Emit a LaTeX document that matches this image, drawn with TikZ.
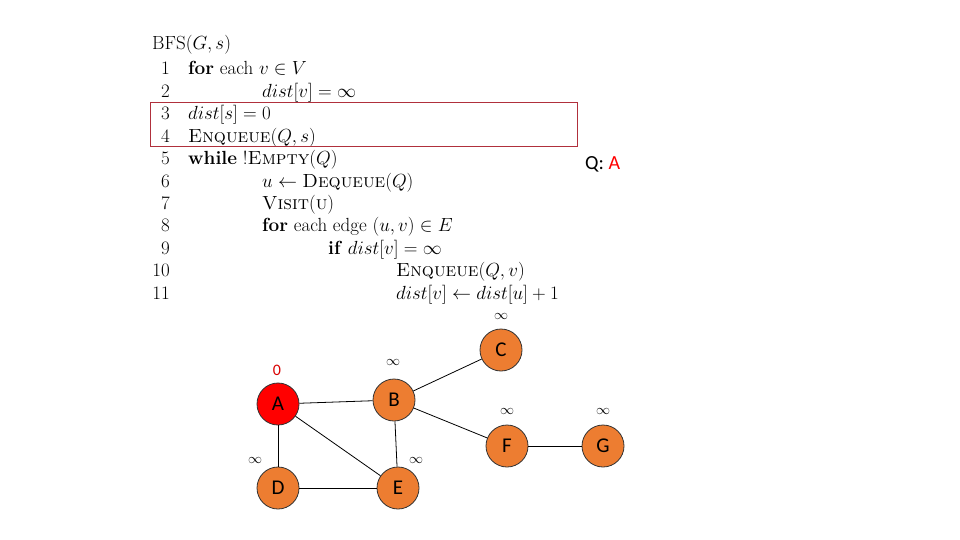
\RequirePackage{fix-cm}
\documentclass[tikz,border=0pt]{standalone}
\usepackage{fontspec}
\newfontfamily\calib{Carlito}
\definecolor{vorange}{HTML}{ED7D31}
\definecolor{boxred}{HTML}{B0303C}
\begin{document}
\begin{tikzpicture}[x=1pt,y=-1pt,
  code/.style={anchor=base west,inner sep=0pt,font=\fontsize{19}{21}\selectfont},
  num/.style={anchor=base east,inner sep=0pt,font=\fontsize{19}{21}\selectfont},
  vtx/.style={circle,draw=black!80,line width=0.8pt,fill=vorange,minimum size=42pt,inner sep=0pt,font=\calib\fontsize{21}{23}\selectfont},
  dlab/.style={inner sep=0pt,font=\fontsize{14}{15}\selectfont},
  edge/.style={draw=black,line width=0.8pt}]
\useasboundingbox[fill=white] (0,0) rectangle (960,540);
% pseudocode
\node[code] (title) at (152,50) {BFS$(G,s)$};
\foreach \n in {1,...,11}{
  \node[num] (n\n) at (170,{75+(\n-1)*22.4}) {\n};
}
\node[code] (l1) at (188,75) {\textbf{for} each $v\in V$};
\node[code] (l2) at (262,97.4) {$dist[v]=\infty$};
\node[code] (l3) at (188,119.8) {$dist[s]=0$};
\node[code] (l4) at (188,142.2) {\textsc{Enqueue}$(Q,s)$};
\node[code] (l5) at (188,164.6) {\textbf{while} !\textsc{Empty}$(Q)$};
\node[code] (l6) at (262,187) {$u\leftarrow{}$\textsc{Dequeue}$(Q)$};
\node[code] (l7) at (262,209.4) {\textsc{Visit}(\textsc{u})};
\node[code] (l8) at (262,231.8) {\textbf{for} each edge $(u,v)\in E$};
\node[code] (l9) at (328,254.2) {\textbf{if} $dist[v]=\infty$};
\node[code] (l10) at (396,276.6) {\textsc{Enqueue}$(Q,v)$};
\node[code] (l11) at (396,299) {$dist[v]\leftarrow dist[u]+1$};
\node[draw=boxred,line width=0.9pt,minimum width=427pt,minimum height=44pt,anchor=north west,inner sep=0pt] (hl) at (150,102) {};
% queue
\node[anchor=base west,inner sep=0pt,font=\calib\fontsize{20}{22}\selectfont] (q) at (585,170) {Q: \textcolor{red}{A}};
% graph
\node[vtx,fill=red] (A) at (278,404) {A};
\node[vtx] (B) at (394,400) {B};
\node[vtx] (C) at (501,350) {C};
\node[vtx] (D) at (278,488) {D};
\node[vtx] (E) at (398,488) {E};
\node[vtx] (F) at (507,446) {F};
\node[vtx] (G) at (603,446) {G};
\draw[edge] (A) -- (B);
\draw[edge] (A) -- (D);
\draw[edge] (A) -- (E);
\draw[edge] (B) -- (E);
\draw[edge] (B) -- (C);
\draw[edge] (B) -- (F);
\draw[edge] (D) -- (E);
\draw[edge] (F) -- (G);
\node[inner sep=0pt,text=red!85!black,font=\calib\fontsize{16}{18}\selectfont] (dA) at (277,370) {0};
\node[dlab] (dB) at (393,362) {$\infty$};
\node[dlab] (dC) at (501,316) {$\infty$};
\node[dlab] (dF) at (507,411) {$\infty$};
\node[dlab] (dG) at (603,411) {$\infty$};
\node[dlab] (dD) at (255,460) {$\infty$};
\node[dlab] (dE) at (416,460) {$\infty$};
\end{tikzpicture}
\end{document}
